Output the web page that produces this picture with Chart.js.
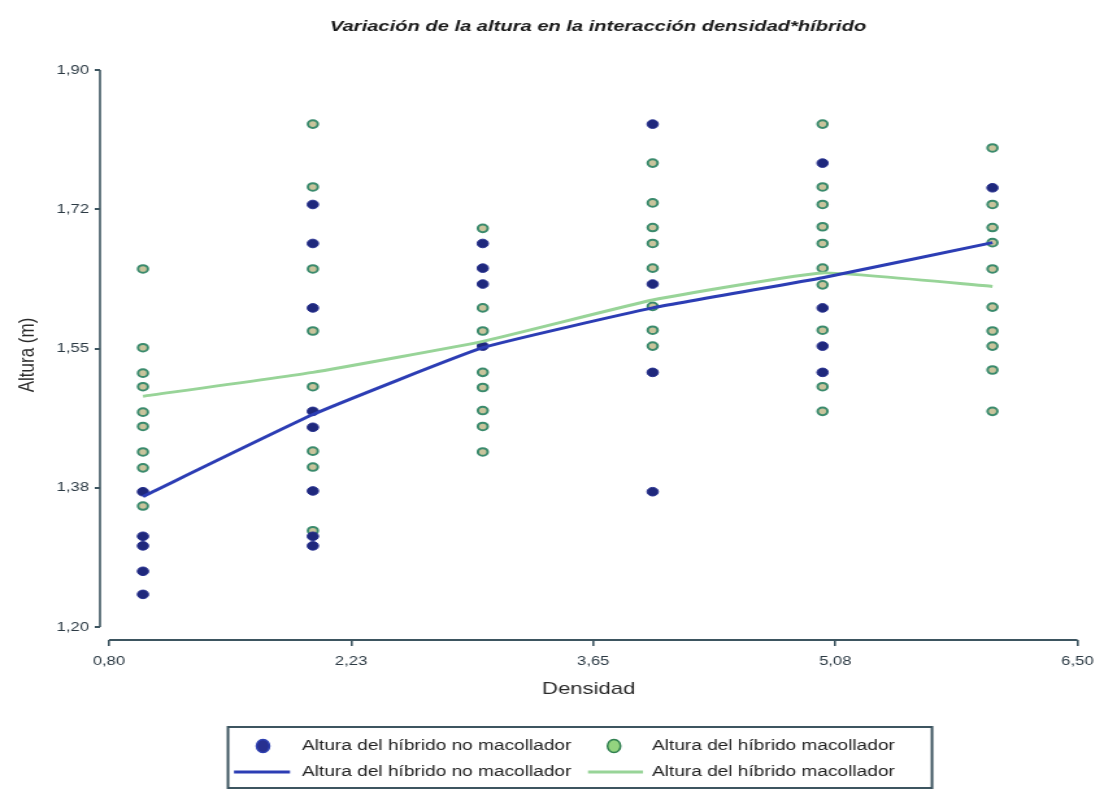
<!DOCTYPE html>
<html><head><meta charset="utf-8">
<script src="https://cdn.jsdelivr.net/npm/chart.js@4/dist/chart.umd.min.js"></script>
<style>
html,body{margin:0;padding:0;background:#fff;overflow:hidden}
</style>
</head><body>
<canvas id="c" width="850" height="792" style="display:block;width:1104px;height:792px"></canvas>
<script>
// ---- data ----
const chartTitle = 'Variación de la altura en la interacción densidad*híbrido';
const xTitle = 'Densidad';
const yTitle = 'Altura (m)';
const seriesNoMac = 'Altura del híbrido no macollador';
const seriesMac = 'Altura del híbrido macollador';

const densities = [1, 2, 3, 4, 5, 6];

// observed heights per density (híbrido no macollador)
const pointsNoMac = [
  [1.370, 1.314, 1.302, 1.270, 1.241],
  [1.731, 1.682, 1.601, 1.471, 1.451, 1.371, 1.314, 1.302],
  [1.682, 1.651, 1.631, 1.553],
  [1.832, 1.631, 1.520, 1.370],
  [1.783, 1.601, 1.553, 1.520],
  [1.752]
];
// observed heights per density (híbrido macollador)
const pointsMac = [
  [1.650, 1.551, 1.519, 1.502, 1.470, 1.452, 1.420, 1.400, 1.352],
  [1.832, 1.753, 1.650, 1.572, 1.502, 1.421, 1.401, 1.321],
  [1.701, 1.601, 1.572, 1.520, 1.501, 1.472, 1.452, 1.420],
  [1.783, 1.733, 1.702, 1.682, 1.651, 1.603, 1.573, 1.553],
  [1.832, 1.753, 1.731, 1.703, 1.682, 1.651, 1.630, 1.573, 1.502, 1.471],
  [1.802, 1.731, 1.702, 1.683, 1.650, 1.602, 1.572, 1.553, 1.523, 1.471]
];
// fitted curves
const lineNoMac = [1.364, 1.467, 1.551, 1.601, 1.639, 1.683];
const lineMac   = [1.490, 1.520, 1.559, 1.611, 1.645, 1.628];

const xTickValues = [0.80, 2.225, 3.65, 5.075, 6.50];
const xTickLabels = ['0,80', '2,23', '3,65', '5,08', '6,50'];
const yTickValues = [1.20, 1.375, 1.55, 1.725, 1.90];
const yTickLabels = ['1,20', '1,38', '1,55', '1,72', '1,90'];

// ---- helpers ----
const S = 1104 / 850; // horizontal stretch of the reference
const FONT = '"Liberation Sans", Arial, sans-serif';
const axisColor = '#3d5560';
const tickColor = '#2c3a44';

function toPoints(cols) {
  const out = [];
  cols.forEach((col, i) => col.forEach(v => out.push({x: densities[i], y: v})));
  return out;
}
function toLine(vals) { return densities.map((d, i) => ({x: d, y: vals[i]})); }

const axisPlugin = {
  id: 'axisLines',
  afterDraw(chart) {
    const {ctx, chartArea: a, scales: {x, y}} = chart;
    ctx.save();
    ctx.strokeStyle = axisColor;
    ctx.lineWidth = 1.6;
    ctx.beginPath();
    ctx.moveTo(a.left, y.getPixelForValue(yTickValues[yTickValues.length - 1]));
    ctx.lineTo(a.left, y.getPixelForValue(yTickValues[0]));
    ctx.stroke();
    ctx.lineWidth = 2;
    ctx.beginPath();
    ctx.moveTo(x.getPixelForValue(xTickValues[0]), a.bottom);
    ctx.lineTo(x.getPixelForValue(xTickValues[xTickValues.length - 1]), a.bottom);
    ctx.stroke();
    ctx.restore();
  }
};

const titlePlugin = {
  id: 'mainTitle',
  afterDraw(chart) {
    const ctx = chart.ctx;
    ctx.save();
    ctx.font = 'italic bold 15.5px ' + FONT;
    ctx.fillStyle = '#1a1a1a';
    ctx.textAlign = 'center';
    ctx.textBaseline = 'middle';
    ctx.fillText(chartTitle, 598 / S, 27);
    ctx.restore();
  }
};

const legendPlugin = {
  id: 'boxLegend',
  afterDraw(chart) {
    const ctx = chart.ctx;
    const ds = chart.data.datasets;
    ctx.save();
    ctx.strokeStyle = axisColor;
    ctx.lineWidth = 2;
    ctx.strokeRect(228 / S, 727, (932 - 228) / S, 61);
    const rows = [746, 772];
    const colMarker = [263 / S, 614 / S];
    const colText = [302 / S, 652 / S];
    const lineSeg = [[234 / S, 290 / S], [588 / S, 643 / S]];
    const mk = [
      {fill: '#283090', stroke: '#2d3fb0'},
      {fill: '#93d37f', stroke: '#2f7f4f'}
    ];
    [2, 3].forEach((di, c) => {
      ctx.beginPath();
      ctx.ellipse(colMarker[c], rows[0], 6.5 / S, 6.5, 0, 0, Math.PI * 2);
      ctx.fillStyle = mk[c].fill;
      ctx.fill();
      ctx.lineWidth = 1.5;
      ctx.strokeStyle = mk[c].stroke;
      ctx.stroke();
    });
    [0, 1].forEach((di, c) => {
      ctx.beginPath();
      ctx.moveTo(lineSeg[c][0], rows[1]);
      ctx.lineTo(lineSeg[c][1], rows[1]);
      ctx.strokeStyle = ds[di].borderColor;
      ctx.lineWidth = 3;
      ctx.stroke();
    });
    ctx.font = '14.7px ' + FONT;
    ctx.fillStyle = '#222';
    ctx.textAlign = 'left';
    ctx.textBaseline = 'middle';
    ctx.fillText(ds[2].label, colText[0], rows[0]);
    ctx.fillText(ds[3].label, colText[1], rows[0]);
    ctx.fillText(ds[0].label, colText[0], rows[1]);
    ctx.fillText(ds[1].label, colText[1], rows[1]);
    ctx.restore();
  }
};

new Chart(document.getElementById('c'), {
  type: 'scatter',
  data: {
    datasets: [
      {label: seriesNoMac, data: toLine(lineNoMac), showLine: true, borderColor: '#2c3db4',
       borderWidth: 3, pointRadius: 0, tension: 0.12, fill: false},
      {label: seriesMac, data: toLine(lineMac), showLine: true, borderColor: '#98d498',
       borderWidth: 3, pointRadius: 0, tension: 0.12, fill: false},
      {label: seriesNoMac, data: toPoints(pointsNoMac), showLine: false, pointRadius: 4.3,
       pointBackgroundColor: '#1f287c', pointBorderColor: '#27318f', pointBorderWidth: 1},
      {label: seriesMac, data: toPoints(pointsMac), showLine: false, pointRadius: 3.8,
       pointBackgroundColor: '#c9c49c', pointBorderColor: '#3a8a6c', pointBorderWidth: 2}
    ]
  },
  options: {
    responsive: false,
    animation: false,
    devicePixelRatio: 1,
    layout: {padding: {top: 70, right: 850 - 1081 / S, bottom: 92, left: 0}},
    plugins: {legend: {display: false}, title: {display: false}, tooltip: {enabled: false}},
    scales: {
      x: {
        type: 'linear', min: 0.80 - 9 / ((1081 - 109) / 5.7), max: 6.50,
        afterFit(s) { s.height = 60; },
        afterBuildTicks(s) { s.ticks = xTickValues.map(v => ({value: v})); },
        ticks: {callback: (v, i) => xTickLabels[i], font: {family: FONT, size: 12.8},
                color: tickColor, padding: 8, autoSkip: false, maxRotation: 0},
        grid: {drawOnChartArea: false, drawTicks: true, tickLength: 6, color: axisColor, lineWidth: 1.6},
        border: {display: false},
        title: {display: true, text: xTitle, font: {family: FONT, size: 17}, color: '#2a2a2a', padding: 0}
      },
      y: {
        type: 'linear', min: 1.90 - 570 / ((627 - 70) / 0.70), max: 1.90,
        afterFit(s) { s.width = 100 / S; },
        afterBuildTicks(s) { s.ticks = yTickValues.map(v => ({value: v})); },
        ticks: {callback: (v, i) => yTickLabels[i], font: {family: FONT, size: 12.8},
                color: tickColor, padding: 4.5, autoSkip: false},
        grid: {drawOnChartArea: false, drawTicks: true, tickLength: 4, color: axisColor, lineWidth: 2},
        border: {display: false},
        title: {display: true, text: yTitle, font: {family: FONT, size: 17}, color: '#2a2a2a',
                padding: {top: 11.4, bottom: 0}}
      }
    }
  },
  plugins: [axisPlugin, titlePlugin, legendPlugin]
});
</script>
</body></html>
